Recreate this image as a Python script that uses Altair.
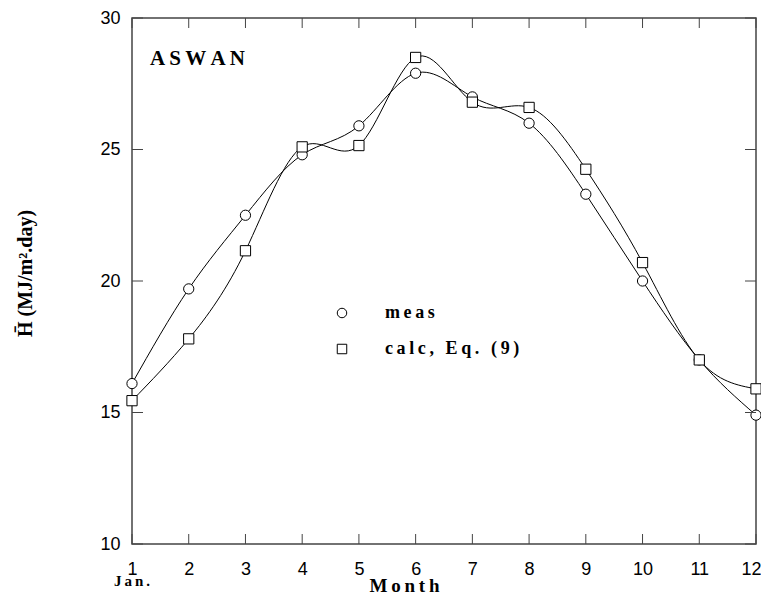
import altair as alt
import pandas as pd

months = [1, 2, 3, 4, 5, 6, 7, 8, 9, 10, 11, 12]
meas = [16.1, 19.7, 22.5, 24.8, 25.9, 27.9, 27.0, 26.0, 23.3, 20.0, 17.0, 14.9]
calc = [15.45, 17.8, 21.15, 25.1, 25.15, 28.5, 26.8, 26.6, 24.25, 20.7, 17.0, 15.9]
series_names = ["meas", "calc, Eq. (9)"]
series_shapes = ["circle", "square"]
y_ticks = [10, 15, 20, 25, 30]

W, H = 624, 526
TS = "\u2009"


def spaced(s):
    return TS.join(s)


rows = []
for m, a, b in zip(months, meas, calc):
    rows.append({"month": m, "value": a, "series": series_names[0]})
    rows.append({"month": m, "value": b, "series": series_names[1]})
df = pd.DataFrame(rows)
xt = pd.DataFrame({"month": months})
yt = pd.DataFrame({"v": y_ticks})

xs = alt.Scale(domain=[1, 12], nice=False, zero=False)
ys = alt.Scale(domain=[10, 30], nice=False, zero=False)
shape_scale = alt.Scale(domain=series_names, range=series_shapes)

last_month = f"datum.value == {months[-1]}"
x_axis = alt.Axis(values=months, format="d", ticks=False, grid=False, domain=False,
                  labelFont="Liberation Sans", labelFontSize=18, labelColor="black",
                  labelPadding=16, labelFlush=False,
                  labelAlign={"condition": {"test": last_month, "value": "right"},
                              "value": "center"},
                  labelOffset={"condition": {"test": last_month, "value": 5},
                               "value": 0},
                  title=spaced("Month"), titleFont="Liberation Serif", titleFontWeight="bold",
                  titleFontSize=19, titleColor="black", titleX=272, titleY=41,
                  titleBaseline="middle", titleAlign="center")
y_axis = alt.Axis(values=y_ticks, format="d", ticks=False, grid=False, domain=False,
                  labelFont="Liberation Sans", labelFontSize=18, labelColor="black",
                  labelPadding=12, labelFlush=False,
                  title="H\u0304 (MJ/m\u00b2.day)", titleFont="Liberation Serif",
                  titleFontWeight="bold", titleFontSize=20, titleColor="black",
                  titleX=-107, titleY=255, titleAngle=270,
                  titleBaseline="middle", titleAlign="center")

base = alt.Chart(df)

lines = base.mark_line(interpolate="natural", color="black", strokeWidth=1).encode(
    x=alt.X("month:Q", scale=xs, axis=x_axis),
    y=alt.Y("value:Q", scale=ys, axis=y_axis),
    detail="series:N",
)

points = base.mark_point(fill="white", stroke="black", strokeWidth=1, opacity=1,
                         fillOpacity=1, size=105).encode(
    x=alt.X("month:Q", scale=xs),
    y=alt.Y("value:Q", scale=ys),
    shape=alt.Shape("series:N", scale=shape_scale, legend=None),
)

# custom legend (one entry per series)
legend_layers = []
legend_rows_y = [295, 331]
for name, shp, ry in zip(series_names, series_shapes, legend_rows_y):
    ldf = pd.DataFrame({"label": [spaced(name)]})
    legend_layers.append(alt.Chart(ldf).mark_point(
        shape=shp, fill="white", stroke="black", strokeWidth=1, opacity=1,
        fillOpacity=1, size=90).encode(x=alt.value(210), y=alt.value(ry)))
    legend_layers.append(alt.Chart(ldf).mark_text(
        font="Liberation Serif", fontWeight="bold", fontSize=18, align="left",
        baseline="middle", color="black").encode(
        x=alt.value(253), y=alt.value(ry), text="label:N"))

xticks_bottom = alt.Chart(xt).mark_rule(color="#444", strokeWidth=1).encode(
    x=alt.X("month:Q", scale=xs), y=alt.value(H), y2=alt.value(H - 10))
xticks_top = alt.Chart(xt).mark_rule(color="#444", strokeWidth=1).encode(
    x=alt.X("month:Q", scale=xs), y=alt.value(0), y2=alt.value(10))
yticks_left = alt.Chart(yt).mark_rule(color="#444", strokeWidth=1).encode(
    y=alt.Y("v:Q", scale=ys), x=alt.value(0), x2=alt.value(11))
yticks_right = alt.Chart(yt).mark_rule(color="#444", strokeWidth=1).encode(
    y=alt.Y("v:Q", scale=ys), x=alt.value(W), x2=alt.value(W - 11))

station = alt.Chart(pd.DataFrame({"t": [spaced("ASWAN")]})).mark_text(
    font="Liberation Serif", fontWeight="bold", fontSize=21, align="left",
    baseline="middle", color="black").encode(
    text="t:N", x=alt.value(18), y=alt.value(41))

jan = alt.Chart(pd.DataFrame({"month": [1], "t": [spaced("Jan.")]})).mark_text(
    font="Liberation Serif", fontWeight="bold", fontSize=15, align="center",
    baseline="middle", color="black").encode(
    text="t:N", x=alt.X("month:Q", scale=xs), y=alt.value(H + 37))

chart = alt.layer(lines, points, xticks_bottom, xticks_top, yticks_left,
                  yticks_right, station, jan, *legend_layers).properties(
    width=W, height=H,
    autosize=alt.AutoSizeParams(type="none"),
    padding={"left": 124, "top": 10, "right": 5, "bottom": 50},
).configure_view(stroke="#444", strokeWidth=1.5)

chart.save("out.html", embed_options={"renderer": "svg", "actions": False})
